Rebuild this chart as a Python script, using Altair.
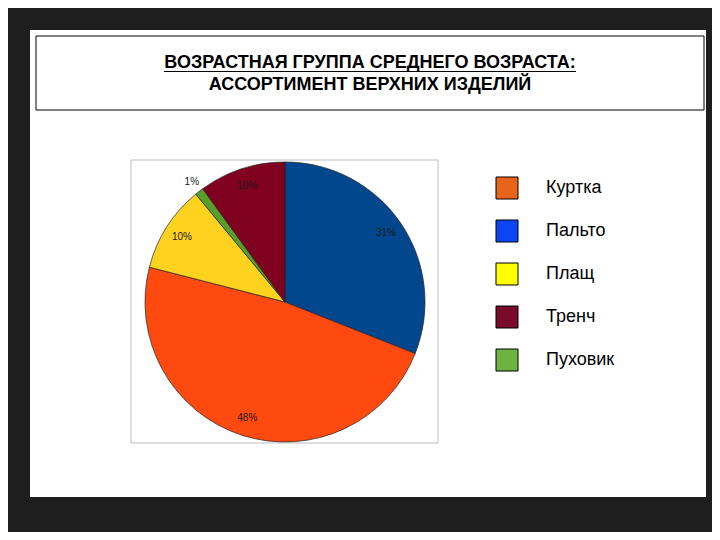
import altair as alt
import pandas as pd

# Data
pie_cats = ["Пальто", "Куртка", "Плащ", "Пуховик", "Тренч"]
pie_values = [31, 48, 10, 1, 10]
pie_labels = ["31%", "48%", "10%", "1%", "10%"]
pie_colors = ["#02478E", "#FF4A0F", "#FFD21F", "#5A9E2A", "#80001F"]

legend_cats = ["Куртка", "Пальто", "Плащ", "Тренч", "Пуховик"]
legend_colors = ["#E8631C", "#0B46F2", "#FFFF00", "#7A0A2A", "#6DB33F"]

title_lines = ["ВОЗРАСТНАЯ ГРУППА СРЕДНЕГО ВОЗРАСТА:", "АССОРТИМЕНТ ВЕРХНИХ ИЗДЕЛИЙ"]

FONT = "Liberation Sans"

pie_df = pd.DataFrame({
    "cat": pie_cats,
    "v": pie_values,
    "lab": pie_labels,
    "k": list(range(len(pie_cats))),
})
leg_df = pd.DataFrame({"cat": legend_cats})
one = pd.DataFrame({"a": [0]})

CX, CY, R = 255, 272, 140

pie_color = alt.Color("cat:N", scale=alt.Scale(domain=pie_cats, range=pie_colors), legend=None)

frame = alt.Chart(one).mark_rect(fillOpacity=0, stroke="#bdbdbd", strokeWidth=1).encode(
    x=alt.value(101), x2=alt.value(408), y=alt.value(130), y2=alt.value(413)
)

pie = alt.Chart(pie_df).mark_arc(radius=R, stroke="#222222", strokeWidth=0.7).encode(
    theta=alt.Theta("v:Q", stack=True),
    order=alt.Order("k:Q"),
    color=pie_color,
    x=alt.value(CX), y=alt.value(CY),
)

def label_layer(expr, rad):
    return alt.Chart(pie_df).transform_calculate(
        t=expr
    ).mark_text(font=FONT, fontSize=10, color="#1a1a1a", radius=rad).encode(
        theta=alt.Theta("v:Q", stack=True),
        order=alt.Order("k:Q"),
        text="t:N",
        x=alt.value(CX), y=alt.value(CY),
    )

pie_text_in = label_layer("datum.v >= 5 ? datum.lab : ''", 122)
pie_text_out = label_layer("datum.v < 5 ? datum.lab : ''", 152)

leg_y = alt.Y("cat:N", sort=legend_cats,
              scale=alt.Scale(type="point", domain=legend_cats, range=[158, 330], padding=0),
              axis=None)

leg_sq = alt.Chart(leg_df).mark_square(size=484, opacity=1, stroke="black", strokeWidth=1).encode(
    x=alt.value(477),
    y=leg_y,
    color=alt.Color("cat:N", scale=alt.Scale(domain=legend_cats, range=legend_colors), legend=None),
)

leg_txt = alt.Chart(leg_df).mark_text(font=FONT, fontSize=18, align="left", baseline="middle", color="black").encode(
    x=alt.value(516),
    y=leg_y,
    text="cat:N",
)

title_box = alt.Chart(one).mark_rect(fillOpacity=0, stroke="black", strokeWidth=1).encode(
    x=alt.value(6), x2=alt.value(674), y=alt.value(6), y2=alt.value(80)
)

title_txt = alt.Chart(one).mark_text(
    text=title_lines, font=FONT, fontSize=18, fontWeight="bold", color="black",
    align="center", baseline="middle", lineHeight=22
).encode(x=alt.value(340), y=alt.value(33))

underline = alt.Chart(one).mark_rule(color="black", strokeWidth=1.2).encode(
    x=alt.value(134), x2=alt.value(546), y=alt.value(41.5)
)

chart = alt.layer(
    frame, pie, pie_text_in, pie_text_out, leg_sq, leg_txt, title_box, title_txt, underline
).resolve_scale(color="independent").properties(
    width=676, height=467,
    padding={"left": 22, "top": 22, "right": 6, "bottom": 35},
    autosize=alt.AutoSizeParams(type="none"),
).configure(background="#1e1e1e").configure_view(fill="white", strokeWidth=0)

chart.save("out.html", embed_options={"renderer": "svg", "actions": False})
